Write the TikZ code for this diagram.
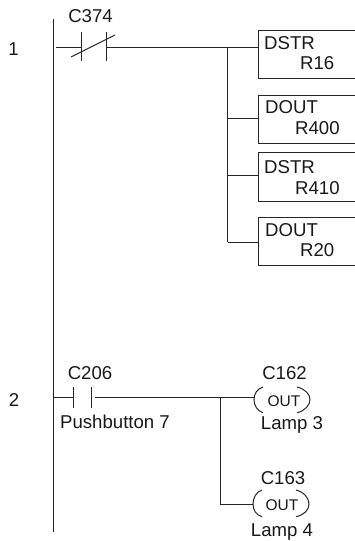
\documentclass[tikz,border=0pt]{standalone}
\usepackage{fontspec}
\setmainfont{Liberation Sans}
\tikzset{
  wire/.style={line width=1pt,black!85},
  lbl/.style={inner sep=0pt,font=\fontsize{18.6}{20}\selectfont,text=black!90},
  lblw/.style={lbl,anchor=west},
  outlbl/.style={inner sep=0pt,font=\fontsize{15.5}{17}\selectfont,text=black!90},
}
\begin{document}
\begin{tikzpicture}[x=1pt,y=-1pt]
\useasboundingbox (0,0) rectangle (355,541);
\fill[white] (0,0) rectangle (355,541);
\coordinate (railt) at (53.5,19); \coordinate (railb) at (53.5,532);
\draw[wire,line width=1.2pt] (railt) -- (railb);
% rung 1
\node[lbl] (n1) at (13.5,49) {1};
\node[lbl] (c374) at (90.5,16) {C374};
\coordinate (a1) at (56,47.5); \coordinate (a2) at (81,47.5);
\coordinate (a3) at (106,47.5); \coordinate (j1) at (227.5,47.5);
\draw[wire] (a1) -- (a2);
\draw[wire] (81,32) -- (81,61);
\draw[wire] (106,32) -- (106,61);
\draw[wire] (71,57) -- (115,35);
\foreach \n/\t/\b/\m/\x/\xx/\xy/\v/\r/\ry in {b1/30.5/78.5/47.5/DSTR/264/43/R16/300/62.7,b2/95/143/118/DOUT/265/107/R400/295/128,b3/152.5/201/175.7/DSTR/264/167/R410/295/188,b4/217.5/265.5/242/DOUT/265/230/R20/300/250}{
  \draw[wire] (355,\t) -- (258.5,\t) -- (258.5,\b) -- (355,\b);
  \coordinate (\n) at (258.5,\m);
  \node[lblw] (\n t) at (\xx,\xy) {\x};
  \node[lblw] (\n r) at (\r,\ry) {\v};
  \draw[wire] (227.5,\m) -- (\n);
}
\draw[wire] (a3) -- (j1) -- (227.5,242);
% rung 2
\node[lbl] (n2) at (14,400) {2};
\node[lbl] (c206) at (90,372.7) {C206};
\node[lblw] (pb) at (60,421.7) {Pushbutton 7};
\coordinate (d1) at (54,397.3); \coordinate (d2) at (73.5,397.3);
\coordinate (d3) at (94.5,397.3); \coordinate (j2) at (220,397.3);
\draw[wire] (d1) -- (d2);
\draw[wire] (73.5,386.7) -- (73.5,408);
\draw[wire] (91.8,386.7) -- (91.8,408);
\draw[wire] (d3) -- (254,397.3);
\draw[wire] (j2) -- (220,504.7) -- (253,504.7);
% coils
\draw[wire] (263,387) .. controls (257,389) and (254,394) .. (254,399.5) .. controls (254,405) and (257,411) .. (263,412.7);
\draw[wire] (297,387) .. controls (305,389) and (310,394) .. (310,399.5) .. controls (310,405) and (305,411) .. (297,412.7);
\node[outlbl] (o1) at (284,400.7) {OUT};
\node[lbl] (c162) at (284.5,373) {C162};
\node[lbl] (l3) at (292,425) {Lamp 3};
\draw[wire] (262,490) .. controls (256,492) and (253,498) .. (253,504) .. controls (253,510) and (256,515) .. (262,516.7);
\draw[wire] (296,490) .. controls (304,492) and (309,498) .. (309,504) .. controls (309,510) and (304,515) .. (296,516.7);
\node[outlbl] (o2) at (282,505) {OUT};
\node[lbl] (c163) at (283,477.7) {C163};
\node[lbl] (l4) at (282,531.7) {Lamp 4};
\end{tikzpicture}
\end{document}
